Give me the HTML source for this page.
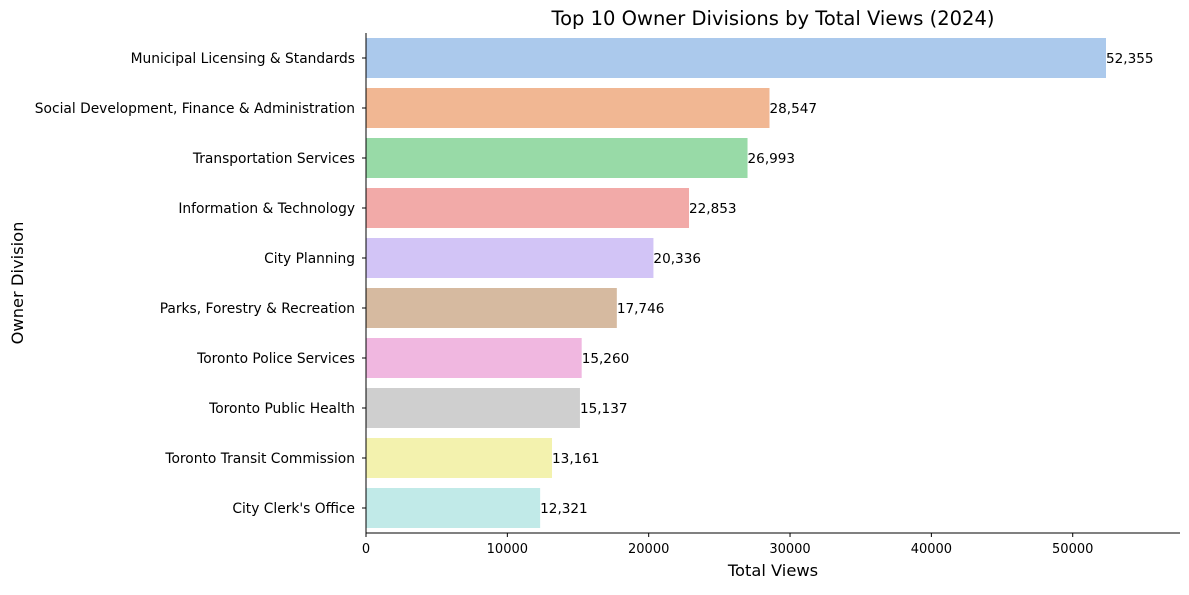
<!DOCTYPE html>
<html><head><meta charset="utf-8"><style>
body{margin:0;background:#fff;}
svg text{font-family:"DejaVu Sans","Liberation Sans",sans-serif;}
</style></head><body>
<svg id="chart" width="1189" height="590" xmlns="http://www.w3.org/2000/svg">
<rect width="1189" height="590" fill="#fff"/>
<text x="773" y="25" font-size="19.5" text-anchor="middle">Top 10 Owner Divisions by Total Views (2024)</text>
<text x="773" y="576" font-size="16.3" text-anchor="middle">Total Views</text>
<text transform="translate(23,283) rotate(-90)" font-size="16.3" text-anchor="middle">Owner Division</text>
<g id="bars"></g>
<g id="xticks"></g>
<line x1="366" y1="33" x2="366" y2="533" stroke="#000" stroke-width="1"/>
<line x1="366" y1="533" x2="1180" y2="533" stroke="#000" stroke-width="1"/>
</svg>
<script>
const categories=["Municipal Licensing & Standards","Social Development, Finance & Administration","Transportation Services","Information & Technology","City Planning","Parks, Forestry & Recreation","Toronto Police Services","Toronto Public Health","Toronto Transit Commission","City Clerk's Office"];
const values=[52355,28547,26993,22853,20336,17746,15260,15137,13161,12321];
const xTicks=[0,10000,20000,30000,40000,50000];
const colors=["#abc9ec","#f1b793","#98daa7","#f2aaa8","#d2c4f6","#d6baa0","#f0b7e0","#cfcfcf","#f3f2ae","#c1eae8"];
const NS="http://www.w3.org/2000/svg";
const x0=366,x1=1180,xMax=Math.max(...values)*1.1;
const plotTop=33,band=50;
function xs(v){return x0+v/xMax*(x1-x0);}
function ys(i){return plotTop+i*band;}
const fmt=v=>v.toLocaleString("en-US");
const gb=document.getElementById("bars");
categories.forEach((c,i)=>{
  const r=document.createElementNS(NS,"rect");
  r.setAttribute("x",x0);r.setAttribute("y",ys(i)+5);
  r.setAttribute("width",xs(values[i])-x0);r.setAttribute("height",40);
  r.setAttribute("fill",colors[i]);
  
  
  gb.appendChild(r);
  const t=document.createElementNS(NS,"text");
  t.setAttribute("x",xs(values[i]));t.setAttribute("y",ys(i)+30);
  t.setAttribute("font-size","13.6");t.textContent=fmt(values[i]);
  
  
  gb.appendChild(t);
  const l=document.createElementNS(NS,"text");
  l.setAttribute("x",355);l.setAttribute("y",ys(i)+30);
  l.setAttribute("font-size","13.8");l.setAttribute("text-anchor","end");l.textContent=c;
  
  
  gb.appendChild(l);
  const tk=document.createElementNS(NS,"line");
  tk.setAttribute("x1",x0-4);tk.setAttribute("x2",x0);tk.setAttribute("y1",ys(i)+25);tk.setAttribute("y2",ys(i)+25);
  tk.setAttribute("stroke","#000");
  
  
  gb.appendChild(tk);
});
const gx=document.getElementById("xticks");
xTicks.forEach(v=>{
  const tk=document.createElementNS(NS,"line");
  tk.setAttribute("x1",xs(v));tk.setAttribute("x2",xs(v));tk.setAttribute("y1",533);tk.setAttribute("y2",537);
  tk.setAttribute("stroke","#000");
  
  
  gx.appendChild(tk);
  const t=document.createElementNS(NS,"text");
  t.setAttribute("x",xs(v));t.setAttribute("y",553);t.setAttribute("font-size","13");
  t.setAttribute("text-anchor","middle");t.textContent=v;
  
  
  gx.appendChild(t);
});
</script>
</body></html>
